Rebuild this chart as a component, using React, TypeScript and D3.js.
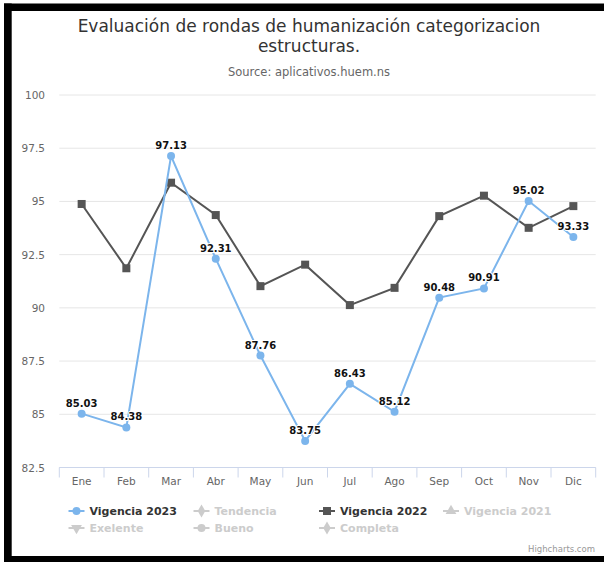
import React from "react";
import * as d3 from "d3";

const categories = ["Ene", "Feb", "Mar", "Abr", "May", "Jun", "Jul", "Ago", "Sep", "Oct", "Nov", "Dic"];
const vigencia2023 = [85.03, 84.38, 97.13, 92.31, 87.76, 83.75, 86.43, 85.12, 90.48, 90.91, 95.02, 93.33];
const vigencia2022 = [94.88, 91.86, 95.88, 94.36, 91.02, 92.03, 90.13, 90.94, 94.31, 95.27, 93.76, 94.78];
const yTicks = [82.5, 85, 87.5, 90, 92.5, 95, 97.5, 100];
const legendItems = [
  { name: "Vigencia 2023", symbol: "circle", visible: true, color: "#7cb5ec" },
  { name: "Tendencia", symbol: "diamond", visible: false, color: "#cccccc" },
  { name: "Vigencia 2022", symbol: "square", visible: true, color: "#555555" },
  { name: "Vigencia 2021", symbol: "triangle", visible: false, color: "#cccccc" },
  { name: "Exelente", symbol: "triangle-down", visible: false, color: "#cccccc" },
  { name: "Bueno", symbol: "circle", visible: false, color: "#cccccc" },
  { name: "Completa", symbol: "diamond", visible: false, color: "#cccccc" },
];

const FONT = "'DejaVu Sans', sans-serif";
const W = 604;
const H = 562;
const plotLeft = 59.3;
const plotRight = 595.7;
const plotTop = 95;
const plotBottom = 467.5;

const symbolTypes: Record<string, d3.SymbolType> = {
  circle: d3.symbolCircle,
  diamond: d3.symbolDiamond,
  square: d3.symbolSquare,
  triangle: d3.symbolTriangle,
  "triangle-down": d3.symbolTriangle,
};

export default function App() {
  const x = d3.scaleBand<string>().domain(categories).range([plotLeft, plotRight]).padding(0);
  const y = d3.scaleLinear().domain([82.5, 100]).range([plotBottom, plotTop]);
  const cx = (c: string) => (x(c) as number) + x.bandwidth() / 2;

  const line = d3
    .line<number>()
    .x((_, i) => cx(categories[i]))
    .y((v) => y(v));

  const sym = (type: string, size: number) => d3.symbol(symbolTypes[type], size)() as string;

  const legendCols = [68.5, 193.5, 319, 443];
  const legendRows = [511, 528];

  return (
    <svg
      width={W}
      height={H}
      style={{ position: "absolute", left: 0, top: 0, background: "#ffffff" }}
      fontFamily={FONT}
    >
      {/* frame */}
      <rect x={4} y={3.5} width={W - 4} height={7.5} fill="#000" />
      <rect x={4} y={3.5} width={7.7} height={H - 3.5} fill="#000" />
      <rect x={4} y={556} width={W - 4} height={6} fill="#000" />

      {/* title */}
      <text x={309} y={32} textAnchor="middle" fontSize={17} fill="#333333">
        Evaluación de rondas de humanización categorizacion
      </text>
      <text x={309} y={52} textAnchor="middle" fontSize={17} fill="#333333">
        estructuras.
      </text>
      <text x={309} y={76} textAnchor="middle" fontSize={11.5} fill="#666666">
        Source: aplicativos.huem.ns
      </text>

      {/* grid */}
      {yTicks.map((t) => (
        <g key={t}>
          <line x1={plotLeft} x2={plotRight} y1={y(t)} y2={y(t)} stroke="#e6e6e6" strokeWidth={1} />
          <text x={45} y={y(t) + 4} textAnchor="end" fontSize={10.5} fill="#666666">
            {t}
          </text>
        </g>
      ))}

      {/* x axis */}
      <line x1={plotLeft} x2={plotRight} y1={plotBottom} y2={plotBottom} stroke="#ccd6eb" strokeWidth={1} />
      {[...categories.map((c) => x(c) as number), plotRight].map((tx, i) => (
        <line key={i} x1={tx} x2={tx} y1={plotBottom} y2={plotBottom + 10} stroke="#ccd6eb" strokeWidth={1} />
      ))}
      {categories.map((c) => (
        <text key={c} x={cx(c)} y={485} textAnchor="middle" fontSize={10.5} fill="#666666">
          {c}
        </text>
      ))}

      {/* Vigencia 2022 */}
      <path d={line(vigencia2022) as string} fill="none" stroke="#555555" strokeWidth={2} />
      {vigencia2022.map((v, i) => (
        <rect key={i} x={cx(categories[i]) - 4} y={y(v) - 4} width={8} height={8} fill="#555555" />
      ))}

      {/* Vigencia 2023 */}
      <path d={line(vigencia2023) as string} fill="none" stroke="#7cb5ec" strokeWidth={2} />
      {vigencia2023.map((v, i) => (
        <circle key={i} cx={cx(categories[i])} cy={y(v)} r={4} fill="#7cb5ec" />
      ))}
      {vigencia2023.map((v, i) => (
        <text
          key={i}
          x={cx(categories[i])}
          y={y(v) - 7}
          textAnchor="middle"
          fontSize={10}
          fontWeight="bold"
          fill="#111111"
          stroke="#ffffff"
          strokeWidth={2}
          strokeLinejoin="round"
          style={{ paintOrder: "stroke" }}
        >
          {v.toFixed(2)}
        </text>
      ))}

      {/* legend */}
      {legendItems.map((it, i) => {
        const lx = legendCols[i % 4];
        const ly = legendRows[Math.floor(i / 4)];
        const rot = it.symbol === "triangle-down" ? 180 : 0;
        return (
          <g key={it.name}>
            <line x1={lx} x2={lx + 16} y1={ly} y2={ly} stroke={it.color} strokeWidth={2} />
            <path
              d={sym(it.symbol, it.symbol === "square" ? 64 : 50)}
              transform={`translate(${lx + 8},${ly}) rotate(${rot})`}
              fill={it.color}
            />
            <text x={lx + 21} y={ly + 4} fontSize={11} fontWeight="bold" fill={it.visible ? "#333333" : "#cccccc"}>
              {it.name}
            </text>
          </g>
        );
      })}

      {/* credits */}
      <text x={595} y={552} textAnchor="end" fontSize={8.5} fill="#999999">
        Highcharts.com
      </text>
    </svg>
  );
}
